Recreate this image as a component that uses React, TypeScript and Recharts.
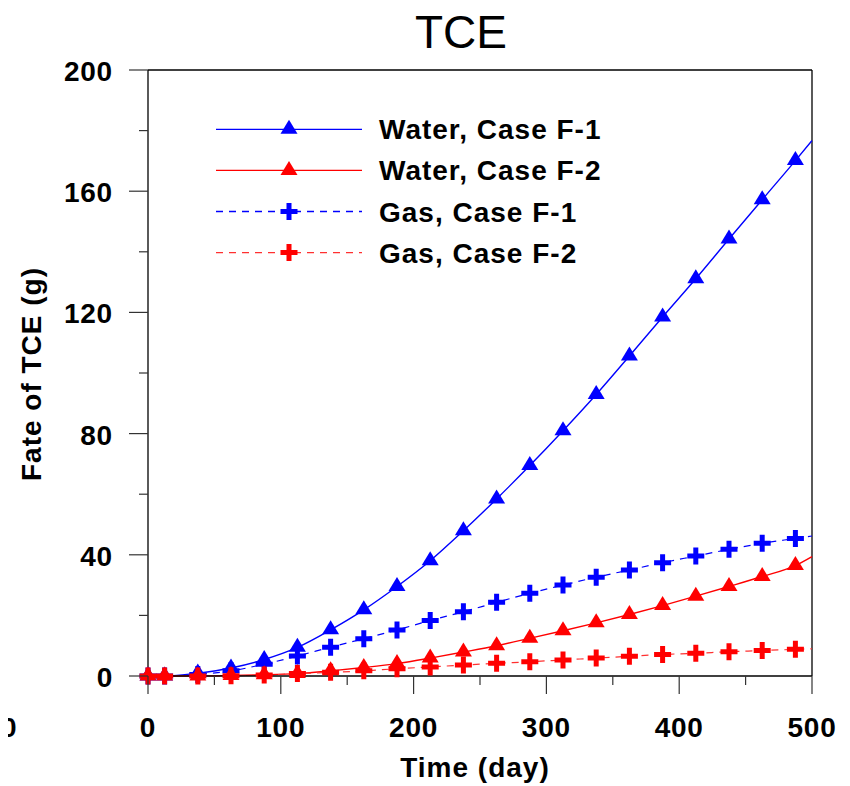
import { LineChart, Line, XAxis, YAxis, ReferenceLine } from 'recharts';

// sample days (markers every 25 days, curve runs to day 500)
const days = [0, 12.5, 37.5, 62.5, 87.5, 112.5, 137.5, 162.5, 187.5, 212.5, 237.5, 262.5, 287.5, 312.5, 337.5, 362.5, 387.5, 412.5, 437.5, 462.5, 487.5, 500];

const waterF1 = [0, 0, 0.95, 2.65, 5.45, 9.45, 15.25, 21.85, 29.55, 38.05, 47.95, 58.45, 69.45, 80.95, 92.9, 105.6, 118.5, 131.1, 144.2, 157.2, 170.1, 176.7];
const waterF2 = [0, 0, 0, 0.2, 0.4, 0.8, 1.7, 2.8, 4.1, 5.9, 7.9, 10.0, 12.45, 14.95, 17.55, 20.3, 23.25, 26.35, 29.55, 32.85, 36.45, 39.4];
const gasF1 = [0, 0, 0.5, 1.7, 3.9, 6.6, 9.5, 12.3, 15.2, 18.3, 21.2, 24.3, 27.3, 30.0, 32.6, 35.0, 37.4, 39.6, 41.8, 43.8, 45.4, 46.2];
const gasF2 = [0, 0, 0, 0.1, 0.3, 0.8, 1.2, 1.7, 2.4, 3.0, 3.6, 4.2, 4.7, 5.3, 5.9, 6.5, 7.1, 7.5, 8.0, 8.4, 8.8, 9.0];

const xTicks = [0, 50, 100, 150, 200, 250, 300, 350, 400, 450, 500];
const yTicks = [0, 20, 40, 60, 80, 100, 120, 140, 160, 180, 200];

const legendItems = [
  { label: 'Water, Case F-1', color: '#0000ff', shape: 'tri', dash: undefined },
  { label: 'Water, Case F-2', color: '#ff0000', shape: 'tri', dash: undefined },
  { label: 'Gas, Case F-1', color: '#0000ff', shape: 'plus', dash: '7 6' },
  { label: 'Gas, Case F-2', color: '#ff3030', shape: 'plus', dash: '7 6' },
];

const data = days.map((d, i) => ({
  day: d,
  waterF1: waterF1[i],
  waterF2: waterF2[i],
  gasF1: gasF1[i],
  gasF2: gasF2[i],
}));

const FONT = '"Liberation Sans", Arial, Helvetica, sans-serif';

const triPoints = (cx: number, cy: number) =>
  `${cx},${cy - 9.5} ${cx - 8.5},${cy + 4.5} ${cx + 8.5},${cy + 4.5}`;

const plusPath = (cx: number, cy: number) =>
  `M${cx - 2.5},${cy - 8.5}h5v6h6v5h-6v6h-5v-6h-6v-5h6z`;

const triDot = (color: string) => (props: any) => {
  const { cx, cy, index } = props;
  if (index === days.length - 1 || cx == null) return <g key={`t${color}${index}`} />;
  return <polygon key={`t${color}${index}`} points={triPoints(cx, cy)} fill={color} />;
};

const plusDot = (color: string) => (props: any) => {
  const { cx, cy, index } = props;
  if (index === days.length - 1 || cx == null) return <g key={`p${color}${index}`} />;
  return <path key={`p${color}${index}`} d={plusPath(cx, cy)} fill={color} />;
};

const YTick = (props: any) => {
  const { x, y, payload } = props;
  const v = payload.value;
  const major = v % 40 === 0;
  return (
    <g>
      <line x1={x} x2={x - (major ? 19 : 9)} y1={y} y2={y} stroke="#333" strokeWidth={1.2} />
      {major && (
        <text x={x - 35} y={y + 11} textAnchor="end" fontFamily={FONT} fontWeight="bold" fontSize={28} letterSpacing={0.8} fill="#000">
          {v}
        </text>
      )}
    </g>
  );
};

const XTick = (props: any) => {
  const { x, y, payload } = props;
  const v = payload.value;
  const major = v % 100 === 0;
  return (
    <g>
      <line x1={x} x2={x} y1={y} y2={y + (major ? 18 : 9)} stroke="#333" strokeWidth={1.2} />
      {major && (
        <text x={x} y={y + 61} textAnchor="middle" fontFamily={FONT} fontWeight="bold" fontSize={28} letterSpacing={0.8} fill="#000">
          {v}
        </text>
      )}
    </g>
  );
};

export default function App() {
  return (
    <div style={{ position: 'relative', width: 842, height: 778 }}>
      <LineChart width={842} height={778} data={data} margin={{ top: 62, right: 38, bottom: 50, left: 40 }}>
        <XAxis
          dataKey="day"
          type="number"
          domain={[0, 500]}
          ticks={xTicks}
          height={60}
          tickSize={0}
          tickMargin={0}
          tickLine={false}
          tick={<XTick />}
          axisLine={{ stroke: '#000', strokeWidth: 1.3 }}
        />
        <YAxis
          type="number"
          domain={[0, 200]}
          ticks={yTicks}
          width={100}
          tickSize={0}
          tickMargin={0}
          tickLine={false}
          tick={<YTick />}
          axisLine={{ stroke: '#000', strokeWidth: 1.3 }}
        />
        <ReferenceLine y={200} stroke="#000" strokeWidth={1.3} />
        <ReferenceLine x={500} stroke="#000" strokeWidth={1.3} />
        <Line
          type="monotone"
          dataKey="waterF1"
          stroke="#0000ff"
          strokeWidth={1.4}
          dot={triDot('#0000ff')}
          isAnimationActive={false}
        />
        <Line
          type="monotone"
          dataKey="gasF1"
          stroke="#0000ff"
          strokeWidth={1.2}
          strokeDasharray="7 6"
          dot={plusDot('#0000ff')}
          isAnimationActive={false}
        />
        <Line
          type="monotone"
          dataKey="waterF2"
          stroke="#ff0000"
          strokeWidth={1.4}
          dot={triDot('#ff0000')}
          isAnimationActive={false}
        />
        <Line
          type="monotone"
          dataKey="gasF2"
          stroke="#ff3030"
          strokeWidth={1.2}
          strokeDasharray="7 6"
          dot={plusDot('#ff0000')}
          isAnimationActive={false}
        />
      </LineChart>
      <svg
        width={850}
        height={786}
        style={{ position: 'absolute', left: -8, top: -8, pointerEvents: 'none' }}
      >
        <text x={461} y={48} textAnchor="middle" fontFamily={FONT} fontSize={46} fill="#000">
          TCE
        </text>
        <text
          transform="translate(41,374) rotate(-90)"
          textAnchor="middle"
          fontFamily={FONT}
          fontWeight="bold"
          fontSize={28}
          letterSpacing={1}
          fill="#000"
        >
          Fate of TCE (g)
        </text>
        <text x={475} y={777} textAnchor="middle" fontFamily={FONT} fontWeight="bold" fontSize={28} letterSpacing={1} fill="#000">
          Time (day)
        </text>
        <text x={1} y={737} textAnchor="start" fontFamily={FONT} fontWeight="bold" fontSize={28} fill="#000">
          0
        </text>
        {legendItems.map((item, i) => {
          const ly = 129.3 + i * 41.1;
          return (
            <g key={item.label}>
              <line x1={216} x2={362} y1={ly} y2={ly} stroke={item.color} strokeWidth={1.3} strokeDasharray={item.dash} />
              {item.shape === 'tri' ? (
                <polygon points={triPoints(289, ly)} fill={item.color} />
              ) : (
                <path d={plusPath(289, ly)} fill={item.color === '#ff3030' ? '#ff0000' : item.color} />
              )}
              <text x={379} y={ly + 10} fontFamily={FONT} fontWeight="bold" fontSize={28} letterSpacing={1} fill="#000">
                {item.label}
              </text>
            </g>
          );
        })}
      </svg>
    </div>
  );
}
